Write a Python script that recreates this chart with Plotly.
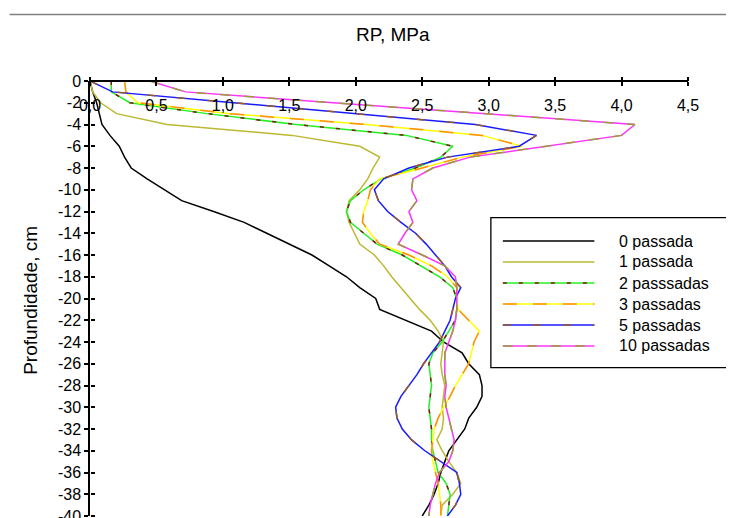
import plotly.graph_objects as go

# ---------------- data ----------------
depth = [0, -1, -2, -3, -4, -5, -6, -7, -8, -9, -10, -11, -12, -13, -14, -15, -16, -17, -18, -19, -20,
         -21, -22, -23, -24, -25, -26, -27, -28, -29, -30, -31, -32, -33, -34, -35, -36, -37, -38, -39, -40]

p0 = [0.00, 0.02, 0.05, 0.07, 0.09, 0.15, 0.22, 0.26, 0.31, 0.43, 0.56, 0.69, 0.93, 1.16, 1.33, 1.50, 1.67,
      1.80, 1.93, 2.03, 2.15, 2.18, 2.38, 2.57, 2.66, 2.80, 2.85, 2.93, 2.95, 2.95, 2.91, 2.85, 2.82, 2.76,
      2.70, 2.67, 2.64, 2.62, 2.59, 2.55, 2.50]
p1 = [0.00, 0.02, 0.08, 0.20, 0.58, 1.52, 2.03, 2.18, 2.13, 2.09, 2.03, 1.95, 1.93, 1.95, 1.99, 2.03, 2.14,
      2.21, 2.27, 2.34, 2.41, 2.48, 2.56, 2.62, 2.66, 2.65, 2.64, 2.65, 2.67, 2.66, 2.65, 2.66, 2.65, 2.61,
      2.65, 2.70, 2.76, 2.79, 2.73, 2.65, 2.64]
p2 = [0.16, 0.16, 0.30, 0.88, 1.55, 2.38, 2.73, 2.64, 2.45, 2.19, 2.06, 1.96, 1.93, 1.96, 2.06, 2.16, 2.35,
      2.49, 2.63, 2.73, 2.76, 2.76, 2.75, 2.70, 2.65, 2.58, 2.55, 2.56, 2.57, 2.56, 2.55, 2.56, 2.57, 2.57,
      2.58, 2.60, 2.62, 2.68, 2.71, 2.70, 2.69]
p3 = [0.26, 0.27, 0.36, 1.05, 2.08, 2.95, 3.25, 2.80, 2.50, 2.18, 2.11, 2.09, 2.06, 2.05, 2.11, 2.18, 2.40,
      2.57, 2.69, 2.76, 2.76, 2.77, 2.85, 2.93, 2.89, 2.87, 2.85, 2.80, 2.75, 2.71, 2.66, 2.62, 2.59, 2.58,
      2.57, 2.58, 2.60, 2.62, 2.63, 2.64, 2.64]
p5 = [0.00, 0.17, 1.08, 2.00, 2.90, 3.36, 3.23, 2.69, 2.40, 2.21, 2.14, 2.17, 2.24, 2.34, 2.45, 2.53, 2.60,
      2.67, 2.72, 2.79, 2.75, 2.73, 2.71, 2.67, 2.63, 2.57, 2.51, 2.46, 2.40, 2.34, 2.30, 2.31, 2.35, 2.42,
      2.52, 2.64, 2.76, 2.78, 2.79, 2.75, 2.69]
p10 = [0.45, 0.72, 1.83, 2.97, 4.10, 4.00, 3.43, 2.86, 2.58, 2.43, 2.42, 2.46, 2.40, 2.43, 2.37, 2.32, 2.50,
       2.67, 2.75, 2.76, 2.76, 2.76, 2.75, 2.73, 2.70, 2.67, 2.67, 2.67, 2.68, 2.67, 2.68, 2.70, 2.72, 2.74,
       2.73, 2.70, 2.63, 2.60, 2.58, 2.56, 2.55]

series_names = ["0 passada", "1 passada", "2 passsadas", "3 passadas", "5 passadas", "10 passadas"]
series_values = [p0, p1, p2, p3, p5, p10]

x_tickvals = [0, 0.5, 1.0, 1.5, 2.0, 2.5, 3.0, 3.5, 4.0, 4.5]
x_ticktext = ["0,0", "0,5", "1,0", "1,5", "2,0", "2,5", "3,0", "3,5", "4,0", "4,5"]
y_tickvals = [0, -2, -4, -6, -8, -10, -12, -14, -16, -18, -20, -22, -24, -26, -28, -30, -32, -34, -36, -38, -40]
y_ticktext = ["0", "-2", "-4", "-6", "-8", "-10", "-12", "-14", "-16", "-18", "-20", "-22", "-24", "-26",
              "-28", "-30", "-32", "-34", "-36", "-38", "-40"]

# ---------------- styles ----------------
base_colors = ["#000000", "#bcb832", "#22f022", "#ffff00", "#1a1aff", "#ff33ff"]
over_colors = [None, None, "#801818", "#ff8c1a", "#9a5a28", "#9c9c38"]
over_dash = [None, None, "4px,12px", "14px,16px", "8px,22px", "10px,14px"]

OFF = 8  # default page body margin
W, H = 734, 518
# plot area in screen pixels: x 89.5..688, y 80.7..515.7
L, R, T, B = 81.5, W - (688 - OFF), 80.7 - OFF, H - (515.7 - OFF)
PW, PH = W - L - R, H - T - B


def px_x(px):
    return (px - OFF - L) / PW


def px_y(py):
    return 1 - (py - OFF - T) / PH


FONT = "Liberation Sans, Arial, sans-serif"

fig = go.Figure()
for vals, bc, oc, od in zip(series_values, base_colors, over_colors, over_dash):
    fig.add_trace(go.Scatter(x=vals, y=depth, mode="lines", line=dict(color=bc, width=1.5),
                             showlegend=False, hoverinfo="skip"))
    if oc:
        fig.add_trace(go.Scatter(x=vals, y=depth, mode="lines", line=dict(color=oc, width=1.5, dash=od),
                                 showlegend=False, hoverinfo="skip"))

# dummy trace for overlay axes (crossing ticks)
fig.add_trace(go.Scatter(x=[None], y=[None], xaxis="x2", yaxis="y2", showlegend=False, hoverinfo="skip"))

shapes = []
annotations = []

# top gray rule
shapes.append(dict(type="line", xref="paper", yref="paper", x0=px_x(9), x1=px_x(760), y0=px_y(14.3),
                   y1=px_y(14.3), line=dict(color="#808080", width=1.5)))

# legend box
shapes.append(dict(type="rect", xref="paper", yref="paper", x0=px_x(490.7), x1=px_x(760), y0=px_y(217.3),
                   y1=px_y(367.3), line=dict(color="#000000", width=1.3), fillcolor="white", layer="above"))
for i, (name, bc, oc, od) in enumerate(zip(series_names, base_colors, over_colors, over_dash)):
    yy = px_y(240.7 + 21 * i)
    shapes.append(dict(type="line", xref="paper", yref="paper", x0=px_x(502.7), x1=px_x(594.3), y0=yy, y1=yy,
                       line=dict(color=bc, width=1.5), layer="above"))
    if oc:
        shapes.append(dict(type="line", xref="paper", yref="paper", x0=px_x(502.7), x1=px_x(594.3), y0=yy,
                           y1=yy, line=dict(color=oc, width=1.5, dash=od), layer="above"))
    annotations.append(dict(text=name, xref="paper", yref="paper", x=px_x(616.7), y=yy, xanchor="left",
                            yanchor="middle", showarrow=False, font=dict(family=FONT, size=16, color="black")))

annotations.append(dict(text="RP, MPa", xref="paper", yref="paper", x=px_x(393), y=px_y(34), xanchor="center",
                        yanchor="middle", showarrow=False, font=dict(family=FONT, size=19, color="black")))
annotations.append(dict(text="Profundidade, cm", xref="paper", yref="paper", x=px_x(30), y=px_y(300),
                        xanchor="center", yanchor="middle", textangle=-90, showarrow=False,
                        font=dict(family=FONT, size=19, color="black")))

fig.update_layout(
    width=W, height=H,
    margin=dict(l=L, r=R, t=T, b=B, pad=0, autoexpand=False),
    paper_bgcolor="white", plot_bgcolor="white",
    showlegend=False,
    xaxis=dict(range=[0, 4.5], anchor="free", position=1, side="bottom", showline=True, linecolor="black",
               linewidth=1.5, ticks="outside", ticklen=4, tickwidth=1.5, tickcolor="black",
               tickvals=x_tickvals, ticktext=x_ticktext, tickfont=dict(family=FONT, size=16, color="black"),
               ticklabelstandoff=6, showgrid=False, zeroline=False, automargin=False),
    xaxis2=dict(range=[0, 4.5], overlaying="x", anchor="free", position=1, side="top", showline=False,
                ticks="outside", ticklen=4, tickwidth=1.5, tickcolor="black", tickvals=x_tickvals,
                showticklabels=False, showgrid=False, zeroline=False, automargin=False),
    yaxis=dict(range=[-40, 0], showline=True, linecolor="black", linewidth=1.5, ticks="outside", ticklen=4,
               tickwidth=1.5, tickcolor="black", tickvals=y_tickvals, ticktext=y_ticktext,
               tickfont=dict(family=FONT, size=16, color="black"), showgrid=False, zeroline=False,
               automargin=False),
    yaxis2=dict(range=[-40, 0], overlaying="y", anchor="free", position=0, side="right", showline=False,
                ticks="outside", ticklen=4, tickwidth=1.5, tickcolor="black", tickvals=y_tickvals,
                showticklabels=False, showgrid=False, zeroline=False, automargin=False),
    shapes=shapes,
    annotations=annotations,
)

fig.write_html("out.html")
